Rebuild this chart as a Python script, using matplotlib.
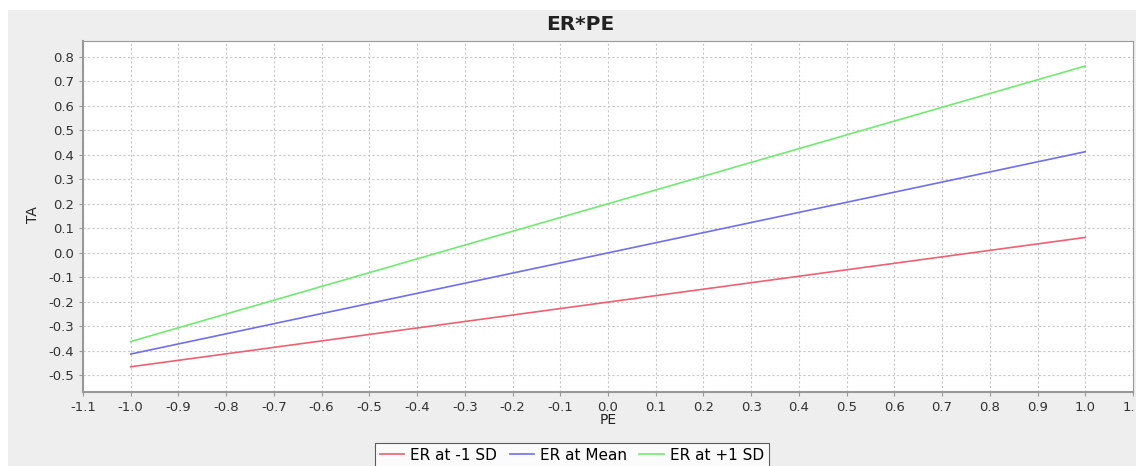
import matplotlib
matplotlib.use("Agg")
import matplotlib.pyplot as plt
import numpy as np
from matplotlib.patches import Rectangle

# simple slopes: TA at PE = -1 and PE = 1
pe = [-1.0, 1.0]
er_minus_sd = [-0.466, 0.062]
er_mean = [-0.414, 0.412]
er_plus_sd = [-0.363, 0.762]
series_labels = ["ER at -1 SD", "ER at Mean", "ER at +1 SD"]
series_colors = ["#f06070", "#6f6ff0", "#6eec6e"]

W, H = 1136, 466
fig = plt.figure(figsize=(W / 100, H / 100), dpi=100, facecolor="white")
fig.patches.append(Rectangle((8 / W, 0), 1, 1 - 10 / H, transform=fig.transFigure,
                             facecolor="#eeeeee", edgecolor="none", zorder=-10))

ax = fig.add_axes([83 / W, 1 - 392 / H, (1133 - 83) / W, (392 - 41) / H])
ax.set_facecolor("white")

for vals, lab, col in zip([er_minus_sd, er_mean, er_plus_sd], series_labels, series_colors):
    ax.plot(pe, vals, color=col, linewidth=1.2, label=lab)


def fmt(v):
    v = round(v, 1)
    return f"{v + 0.0:.1f}" if v != 0 else "0.0"


xt = np.round(np.arange(-1.1, 1.11, 0.1), 1)
yt = np.round(np.arange(-0.5, 0.81, 0.1), 1)
ax.set_xlim(-1.1, 1.1)
ax.set_ylim(-0.569, 0.864)
ax.set_xticks(xt)
ax.set_xticklabels([fmt(v) for v in xt])
ax.set_yticks(yt)
ax.set_yticklabels([fmt(v) for v in yt])
ax.tick_params(labelsize=9.5, colors="#333333", length=3, width=0.8, color="#999999")
ax.grid(True, color="#c8c8c8", linestyle=(0, (2, 2)), linewidth=0.8)
for side in ["left", "bottom", "top", "right"]:
    ax.spines[side].set_color("#999999")
ax.spines["left"].set_linewidth(1.5)
ax.spines["bottom"].set_linewidth(1.5)
ax.spines["top"].set_linewidth(0.8)
ax.spines["right"].set_linewidth(0.8)

fig.text(580 / W, 1 - 25 / H, "ER*PE", ha="center", va="center",
         fontsize=14.5, fontweight="bold", color="#222222")
fig.text(33 / W, 1 - 215 / H, "TA", ha="center", va="center", rotation=90,
         fontsize=10, color="#222222")
fig.text(608 / W, 1 - 420 / H, "PE", ha="center", va="center",
         fontsize=10, color="#222222")

leg = fig.legend(loc="center", bbox_to_anchor=(572 / W, 1 - 455 / H), ncol=3,
                 fontsize=11, frameon=True, fancybox=False, handlelength=1.6,
                 handletextpad=0.4, columnspacing=0.8, borderpad=0.3)
leg.get_frame().set_edgecolor("#333333")
leg.get_frame().set_linewidth(0.8)

fig.savefig("out.png", dpi=100, facecolor=fig.get_facecolor())
